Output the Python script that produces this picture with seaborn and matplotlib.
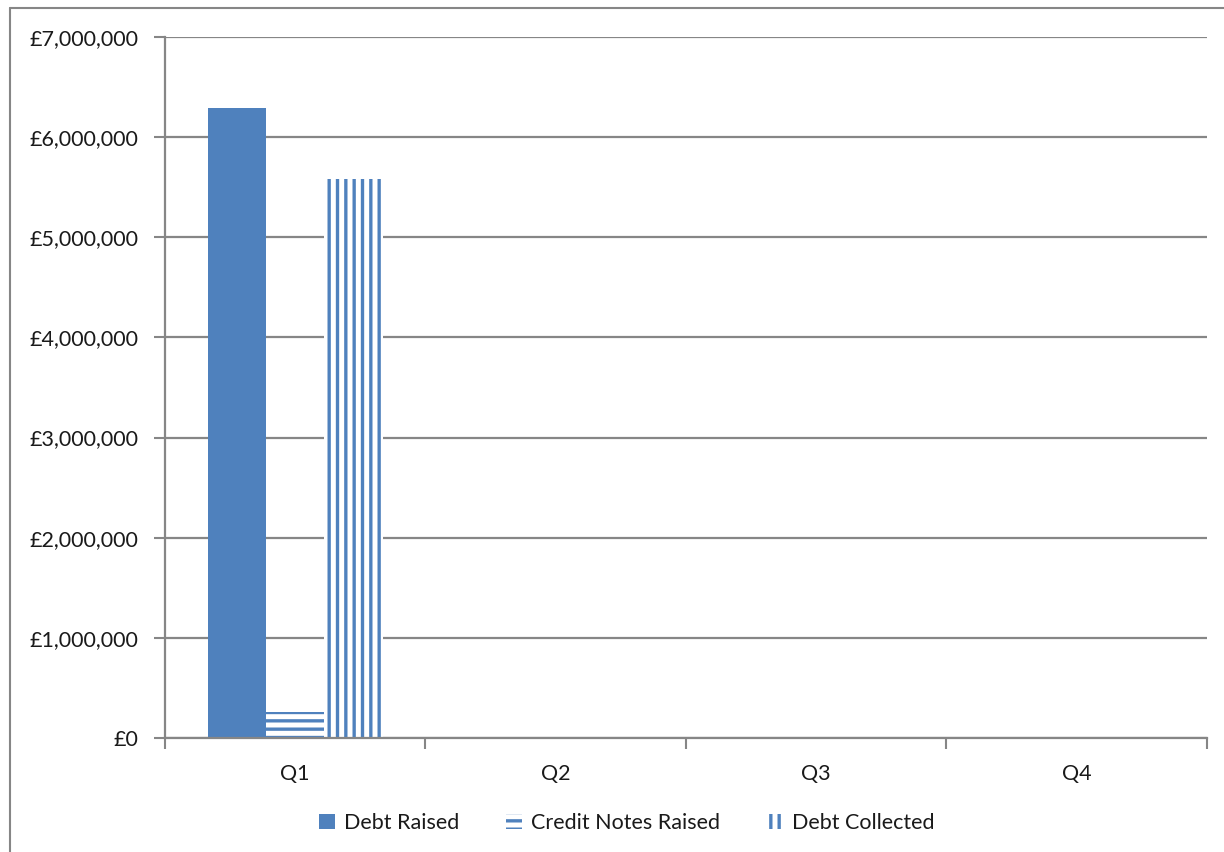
import pandas as pd
import matplotlib
matplotlib.use("Agg")
import matplotlib.pyplot as plt
from matplotlib.ticker import FuncFormatter, MultipleLocator, FixedLocator
from matplotlib.lines import Line2D
import seaborn as sns

# data
quarters = ["Q1", "Q2", "Q3", "Q4"]
debt_raised = [6290000, 0, 0, 0]
credit_notes = [260000, 0, 0, 0]
debt_collected = [5580000, 0, 0, 0]
series = ["Debt Raised", "Credit Notes Raised", "Debt Collected"]

df = pd.DataFrame({
    "Quarter": quarters * 3,
    "Series": [series[0]] * 4 + [series[1]] * 4 + [series[2]] * 4,
    "Value": debt_raised + credit_notes + debt_collected,
})

sns.set_theme(style="white")
plt.rcParams["font.family"] = ["Lato", "DejaVu Sans"]
plt.rcParams["hatch.linewidth"] = 2.4

blue = "#4F81BD"
grey = "#868686"
text_col = "#1a1a1a"
fs = 15.5

fig = plt.figure(figsize=(12.24, 8.52), dpi=100)
ax = fig.add_axes([0.1348, 0.1338, 0.8513, 0.8228])

sns.barplot(data=df, x="Quarter", y="Value", hue="Series", palette=[blue] * 3,
            width=0.67, saturation=1, ax=ax, legend=False)

# Excel-style fills: solid, horizontal stripes, vertical stripes
styles = [dict(face=blue, hatch=None), dict(face="white", hatch="--"),
          dict(face="white", hatch="||")]
for cont, st in zip(ax.containers, styles):
    for p in cont:
        p.set_facecolor(st["face"])
        p.set_edgecolor(blue)
        p.set_linewidth(0)
        if st["hatch"]:
            p.set_hatch(st["hatch"])

ax.set_xlim(-0.5, 3.5)
ax.set_ylim(0, 7000000)
ax.yaxis.set_major_locator(MultipleLocator(1000000))
ax.yaxis.set_major_formatter(FuncFormatter(lambda v, pos: f"£{v:,.0f}"))
ax.grid(axis="y", color=grey, linewidth=1.6)
ax.set_axisbelow(True)
ax.set_xlabel("")
ax.set_ylabel("")

for s in ["top", "right"]:
    ax.spines[s].set_visible(False)
for s in ["left", "bottom"]:
    ax.spines[s].set_color(grey)
    ax.spines[s].set_linewidth(1.6)

ax.tick_params(axis="y", which="major", direction="out", length=8, width=1.5,
               color=grey, left=True, labelsize=fs, labelcolor=text_col, pad=11)
ax.tick_params(axis="x", which="major", length=0, labelsize=fs,
               labelcolor=text_col, pad=19)
ax.xaxis.set_minor_locator(FixedLocator([-0.5, 0.5, 1.5, 2.5, 3.5]))
ax.tick_params(axis="x", which="minor", direction="out", length=8, width=1.5,
               color=grey, bottom=True)

handles = [
    plt.Rectangle((0, 0), 1, 1, facecolor=blue, edgecolor=blue, linewidth=0),
    plt.Rectangle((0, 0), 1, 1, facecolor="white", edgecolor=blue, linewidth=0, hatch="--"),
    plt.Rectangle((0, 0), 1, 1, facecolor="white", edgecolor=blue, linewidth=0, hatch="||"),
]
fig.legend(handles, series, loc="center", bbox_to_anchor=(0.512, 0.034), ncol=3,
           frameon=False, fontsize=fs, handlelength=0.75, handleheight=0.75,
           handletextpad=0.4, columnspacing=2.2, labelcolor=text_col)

# outer chart border
fig.add_artist(Line2D([10 / 1224, 1], [1 - 8 / 852, 1 - 8 / 852], color=grey,
                      linewidth=1.5, transform=fig.transFigure))
fig.add_artist(Line2D([10 / 1224, 10 / 1224], [0, 1 - 8 / 852], color=grey,
                      linewidth=1.5, transform=fig.transFigure))

fig.savefig("out.png", dpi=100, facecolor="white")
